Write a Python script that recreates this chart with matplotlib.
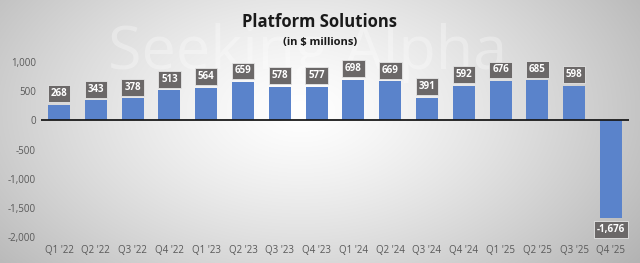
import numpy as np
import matplotlib
matplotlib.use("Agg")
import matplotlib.pyplot as plt

# --- data ---
quarters = ["Q1 '22", "Q2 '22", "Q3 '22", "Q4 '22",
            "Q1 '23", "Q2 '23", "Q3 '23", "Q4 '23",
            "Q1 '24", "Q2 '24", "Q3 '24", "Q4 '24",
            "Q1 '25", "Q2 '25", "Q3 '25", "Q4 '25"]
revenue = [268, 343, 378, 513, 564, 659, 578, 577,
           698, 669, 391, 592, 676, 685, 598, -1676]
yticks = [1000, 500, 0, -500, -1000, -1500, -2000]

plt.rcParams['font.family'] = ['Open Sans', 'DejaVu Sans']

fig = plt.figure(figsize=(6.4, 2.63), dpi=100)

# radial gradient background
bg = fig.add_axes([0, 0, 1, 1], zorder=-10)
yy, xx = np.mgrid[0:263, 0:640]
d = np.sqrt(((xx - 300) / 420.0) ** 2 + ((yy - 110) / 260.0) ** 2)
shade = np.clip(1.0 - 0.30 * d ** 1.3, 0.70, 1.0)
bg.imshow(np.dstack([shade, shade, shade]), aspect='auto', extent=[0, 1, 0, 1])
bg.axis('off')

# faint watermark
fig.text(0.48, 0.80, "Seeking Alpha", fontsize=44, color='white', alpha=0.3,
         ha='center', va='center', zorder=-5)

ax = fig.add_axes([0.0634, 0.0989, 0.92, 0.665])
ax.patch.set_alpha(0)
x = np.arange(len(quarters))
ax.bar(x, revenue, width=0.6, color='#5a83cb', zorder=2)
ax.axhline(0, color='#1a1a1a', lw=1.3, zorder=3)

for xi, v in zip(x, revenue):
    off = 95 if v >= 0 else -95
    ax.text(xi, v + off, f"{v:,}", ha='center', va='bottom' if v >= 0 else 'top',
            color='white', fontsize=7, fontweight='bold', zorder=4,
            bbox=dict(boxstyle='square,pad=0.3', fc='#6b6868', ec='#e6e6e6', lw=0.6),
            clip_on=False)

ax.set_xlim(-0.5, len(quarters) - 0.5)
ax.set_ylim(-2000, 1000)
ax.set_yticks(yticks)
ax.set_yticklabels([f"{t:,}" for t in yticks])
ax.set_xticks(x)
ax.set_xticklabels(quarters)
ax.tick_params(axis='both', length=0, labelsize=7, colors='#595959')
ax.tick_params(axis='x', pad=6)
for s in ax.spines.values():
    s.set_visible(False)

fig.text(0.5, 0.915, "Platform Solutions", ha='center', va='center',
         fontsize=12, fontweight='bold', color='#1a1a1a')
fig.text(0.5, 0.84, "(in $ millions)", ha='center', va='center',
         fontsize=8, fontweight='bold', color='#1a1a1a')

fig.savefig("out.png", dpi=100)
